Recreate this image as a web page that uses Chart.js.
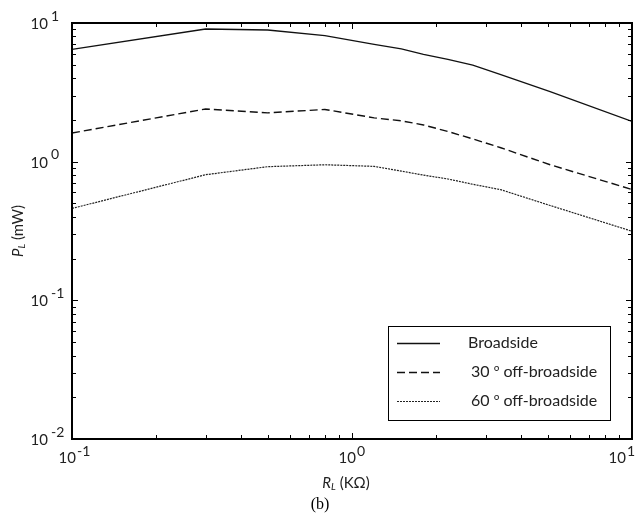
<!DOCTYPE html>
<html>
<head>
<meta charset="utf-8">
<script src="https://cdn.jsdelivr.net/npm/chart.js@4.4.1/dist/chart.umd.min.js"></script>
<style>
  body { margin: 0; background: #fff; }
  canvas { display: block; }
</style>
</head>
<body>
<canvas id="chart" width="638" height="521"></canvas>
<script>
// load resistance (kOhm) and delivered power (mW)
const loadR = [0.1, 0.3, 0.5, 0.8, 1.2, 1.5, 1.8, 2.2, 2.7, 3.4, 5.1, 10];
const broadside = [6.45, 9.05, 8.9, 8.1, 7.0, 6.5, 5.95, 5.47, 4.97, 4.24, 3.2, 1.95];
const off30 = [1.61, 2.40, 2.25, 2.38, 2.07, 1.97, 1.84, 1.65, 1.46, 1.26, 0.95, 0.63];
const off60 = [0.46, 0.805, 0.92, 0.95, 0.925, 0.855, 0.80, 0.75, 0.687, 0.628, 0.483, 0.315];

const seriesNames = ['Broadside', '30 º off-broadside', '60 º off-broadside'];

// decade exponents used for tick labels
const xExponents = [-1, 0, 1];
const yExponents = [-2, -1, 0, 1];
const minorSteps = [2, 3, 4, 5, 6, 7, 8, 9];

const FONT = 'Lato, "Open Sans", sans-serif';

function points(ys) {
    return loadR.map((r, i) => ({ x: r, y: ys[i] }));
}

// legend label: the ordinal sign is drawn in Noto Sans so it keeps its underline
function drawLegendText(ctx, text, x, y) {
    const parts = text.split('º');
    ctx.font = '16px ' + FONT;
    ctx.fillText(parts[0], x, y);
    if (parts.length < 2) return;
    x += ctx.measureText(parts[0]).width;
    ctx.font = '15px "Noto Sans", sans-serif';
    ctx.fillText('º', x, y);
    x += ctx.measureText('º').width;
    ctx.font = '16px ' + FONT;
    ctx.fillText(parts[1], x, y);
}

// draws the frame, inward ticks, "10^n" labels, titles and the boxed legend
const frameAndLabels = {
    id: 'frameAndLabels',
    afterDraw(chart) {
        const ctx = chart.ctx;
        const ca = chart.chartArea;
        const xs = chart.scales.x;
        const ys = chart.scales.y;
        ctx.save();

        // frame
        ctx.strokeStyle = '#000';
        ctx.lineWidth = 2;
        ctx.strokeRect(ca.left, ca.top, ca.right - ca.left, ca.bottom - ca.top);

        // ticks
        ctx.lineWidth = 1;
        ctx.beginPath();
        xExponents.forEach(e => {
            const d = Math.pow(10, e);
            const px = Math.round(xs.getPixelForValue(d)) + 0.5;
            ctx.moveTo(px, ca.bottom); ctx.lineTo(px, ca.bottom - 6);
            ctx.moveTo(px, ca.top); ctx.lineTo(px, ca.top + 6);
            if (e < xExponents[xExponents.length - 1]) {
                minorSteps.forEach(m => {
                    const p = Math.round(xs.getPixelForValue(d * m)) + 0.5;
                    ctx.moveTo(p, ca.bottom); ctx.lineTo(p, ca.bottom - 4);
                    ctx.moveTo(p, ca.top); ctx.lineTo(p, ca.top + 4);
                });
            }
        });
        yExponents.forEach(e => {
            const d = Math.pow(10, e);
            const py = Math.round(ys.getPixelForValue(d)) + 0.5;
            ctx.moveTo(ca.left, py); ctx.lineTo(ca.left + 6, py);
            ctx.moveTo(ca.right, py); ctx.lineTo(ca.right - 6, py);
            if (e < yExponents[yExponents.length - 1]) {
                minorSteps.forEach(m => {
                    const p = Math.round(ys.getPixelForValue(d * m)) + 0.5;
                    ctx.moveTo(ca.left, p); ctx.lineTo(ca.left + 4, p);
                    ctx.moveTo(ca.right, p); ctx.lineTo(ca.right - 4, p);
                });
            }
        });
        ctx.stroke();

        // tick labels
        ctx.fillStyle = '#222';
        ctx.textBaseline = 'middle';
        const baseFont = '15px ' + FONT;
        const supFont = '14px ' + FONT;

        yExponents.forEach(e => {
            const py = ys.getPixelForValue(Math.pow(10, e));
            ctx.font = baseFont;
            ctx.textAlign = 'right';
            ctx.fillText('10', 48, py + 1);
            ctx.font = supFont;
            ctx.textAlign = 'left';
            ctx.fillText(String(e), 51, py - 7);
        });

        xExponents.forEach(e => {
            const px = xs.getPixelForValue(Math.pow(10, e));
            const right = Math.min(px + 4, ca.right - 6);
            ctx.font = baseFont;
            ctx.textAlign = 'right';
            ctx.fillText('10', right, ca.bottom + 19);
            ctx.font = supFont;
            ctx.textAlign = 'left';
            ctx.fillText(String(e), right + 1, ca.bottom + 12);
        });

        // y title: P_L (mW)
        ctx.save();
        ctx.translate(18, (ca.top + ca.bottom) / 2);
        ctx.rotate(-Math.PI / 2);
        drawSubTitle(ctx, 'P', 'L', ' (mW)', 0, 0);
        ctx.restore();

        // x title: R_L (KΩ)
        drawSubTitle(ctx, 'R', 'L', ' (KΩ)', (ca.left + ca.right) / 2 - 6, ca.bottom + 44);

        // caption
        ctx.font = '16px "Liberation Serif", "DejaVu Serif", serif';
        ctx.textAlign = 'center';
        ctx.fillStyle = '#000';
        ctx.fillText('(b)', 320, ca.bottom + 66);

        // legend box
        const lg = { left: 388, top: 326, right: 610, bottom: 420 };
        ctx.fillStyle = '#fff';
        ctx.fillRect(lg.left, lg.top, lg.right - lg.left, lg.bottom - lg.top);
        ctx.strokeStyle = '#000';
        ctx.lineWidth = 1;
        ctx.strokeRect(lg.left + 0.5, lg.top + 0.5, lg.right - lg.left, lg.bottom - lg.top);

        const rowY = [343, 372, 401];
        const textX = [468, 471, 471];
        chart.data.datasets.forEach((ds, i) => {
            ctx.save();
            ctx.strokeStyle = ds.borderColor;
            ctx.lineWidth = ds.borderWidth;
            ctx.setLineDash(ds.borderDash || []);
            ctx.beginPath();
            ctx.moveTo(397, rowY[i] + 0.5);
            ctx.lineTo(440, rowY[i] + 0.5);
            ctx.stroke();
            ctx.restore();
            ctx.fillStyle = '#222';
            ctx.textAlign = 'left';
            ctx.textBaseline = 'middle';
            drawLegendText(ctx, ds.label, textX[i], rowY[i]);
        });

        ctx.restore();
    }
};

// italic symbol with italic subscript followed by plain text, centred on (cx, cy)
function drawSubTitle(ctx, sym, sub, rest, cx, cy) {
    const symFont = 'italic 15px ' + FONT;
    const subFont = 'italic 10px ' + FONT;
    const restFont = '15px ' + FONT;
    ctx.font = symFont; const w1 = ctx.measureText(sym).width;
    ctx.font = subFont; const w2 = ctx.measureText(sub).width;
    ctx.font = restFont; const w3 = ctx.measureText(rest).width;
    let x = cx - (w1 + w2 + w3) / 2;
    ctx.fillStyle = '#222';
    ctx.textAlign = 'left';
    ctx.textBaseline = 'middle';
    ctx.font = symFont; ctx.fillText(sym, x, cy); x += w1;
    ctx.font = subFont; ctx.fillText(sub, x, cy + 4); x += w2;
    ctx.font = restFont; ctx.fillText(rest, x, cy);
}

new Chart(document.getElementById('chart'), {
    type: 'line',
    data: {
        datasets: [
            {
                label: seriesNames[0],
                data: points(broadside),
                borderColor: '#111',
                borderWidth: 1.3
            },
            {
                label: seriesNames[1],
                data: points(off30),
                borderColor: '#111',
                borderWidth: 1.4,
                borderDash: [8, 4]
            },
            {
                label: seriesNames[2],
                data: points(off60),
                borderColor: '#222',
                borderWidth: 1.2,
                borderDash: [2, 1]
            }
        ]
    },
    options: {
        responsive: false,
        animation: false,
        events: [],
        elements: {
            point: { radius: 0 },
            line: { tension: 0, fill: false }
        },
        layout: { padding: { left: 72, right: 6, top: 23, bottom: 82 } },
        scales: {
            x: { type: 'logarithmic', min: 0.1, max: 10, display: false },
            y: { type: 'logarithmic', min: 0.01, max: 10, display: false }
        },
        plugins: {
            legend: { display: false },
            tooltip: { enabled: false }
        }
    },
    plugins: [frameAndLabels]
});
</script>
</body>
</html>
